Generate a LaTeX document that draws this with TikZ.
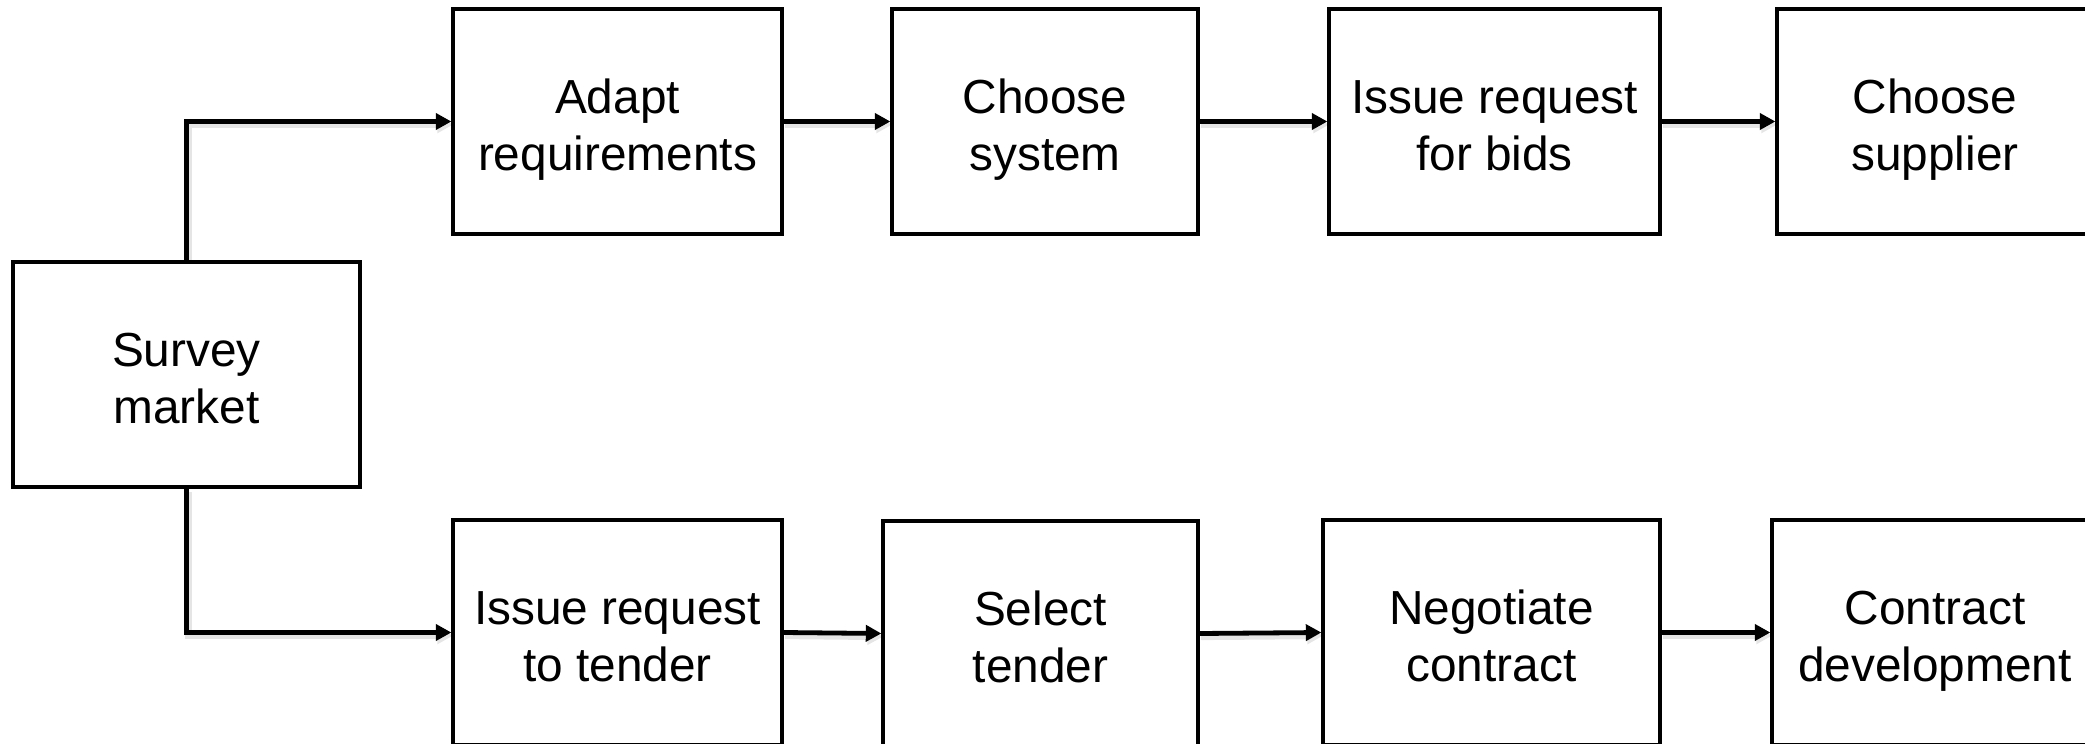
\documentclass[tikz,border=0pt]{standalone}
\usepackage{fontspec}
\setmainfont{Liberation Sans}
\usetikzlibrary{arrows.meta}
\pgfdeclarelayer{background}
\pgfsetlayers{background,main}
% two-line label with a fixed top and a baseline-level bottom,
% so that every label sits at the same height in its box
\newcommand\twoline[2]{\rule{0pt}{20pt}#1\\\raisebox{0pt}[\height][0pt]{#2}}
\begin{document}
\begin{tikzpicture}[x=0.5pt,y=-0.5pt,
  stepbox/.style={draw, line width=1.6pt, align=center, inner sep=0pt,
    minimum height=112.5pt, font=\fontsize{23.9pt}{28.5pt}\selectfont},
  flow/.style={line width=2.4pt, -{Triangle[length=7.8pt,width=8pt]},
    preaction={draw=black!10, line width=3.4pt,
      transform canvas={shift={(0.8pt,-1.6pt)}}}}]
\useasboundingbox (0,0) rectangle (2085,744);
\clip (0,0) rectangle (2085,744);
% left-hand start box
\node[stepbox, minimum width=173.5pt] (survey) at (186.5,374.5) {\twoline{Survey}{market}};
% upper branch
\node[stepbox, minimum width=164.5pt] (adapt) at (617.5,121.5) {\twoline{Adapt}{requirements}};
\node[stepbox, minimum width=153pt] (system) at (1045,121.5) {\twoline{Choose}{system}};
\node[stepbox, minimum width=165.5pt] (bids) at (1494.5,121.5) {\twoline{Issue request}{for bids}};
\node[stepbox, minimum width=158pt] (supplier) at (1935,121.5) {\twoline{Choose}{supplier}};
% lower branch
\node[stepbox, minimum width=164.5pt] (tender) at (617.5,632.5) {\twoline{Issue request}{to tender}};
\node[stepbox, minimum width=157.5pt] (select) at (1040.5,633.5) {\twoline{Select}{tender}};
\node[stepbox, minimum width=168.5pt] (negotiate) at (1491.5,632.5) {\twoline{Negotiate}{contract}};
\node[stepbox, minimum width=163pt] (contract) at (1935,632.5) {\twoline{Contract}{development}};
% connectors, kept under the box outlines
\begin{pgfonlayer}{background}
\draw[flow] (survey.north) |- (adapt.west);
\draw[flow] (survey.south) |- (tender.west);
\draw[flow] (adapt) -- (system);
\draw[flow] (system) -- (bids);
\draw[flow] (bids) -- (supplier);
\draw[flow] (tender.east) -- (select.west);
\draw[flow] (select.east) -- (negotiate.west);
\draw[flow] (negotiate) -- (contract);
\end{pgfonlayer}
\end{tikzpicture}
\end{document}
